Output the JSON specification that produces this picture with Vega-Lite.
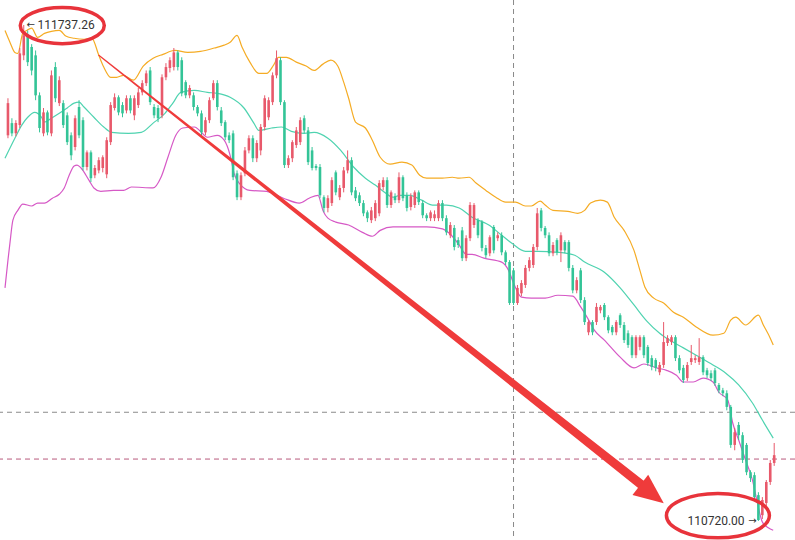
{
"$schema": "https://vega.github.io/schema/vega-lite/v6.json",
"width": 795, "height": 540,
"autosize": {"type": "none"},
"padding": 0,
"background": "#ffffff",
"config": {"view": {"stroke": null}, "axis": {"disable": true}},
"datasets": {
"candles": [
{"t":0,"o":111511,"h":111587,"l":111505,"c":111577},
{"t":4,"o":111536,"h":111546,"l":111509,"c":111515},
{"t":8,"o":111515,"h":111542,"l":111509,"c":111536},
{"t":12,"o":111532,"h":111690,"l":111526,"c":111679},
{"t":16,"o":111675,"h":111737.26,"l":111665,"c":111716},
{"t":20,"o":111718,"h":111726,"l":111653,"c":111661},
{"t":24,"o":111692,"h":111698,"l":111634,"c":111644},
{"t":28,"o":111675,"h":111685,"l":111583,"c":111593},
{"t":32,"o":111593,"h":111599,"l":111517,"c":111526},
{"t":36,"o":111515,"h":111567,"l":111509,"c":111558},
{"t":40,"o":111558,"h":111562,"l":111511,"c":111517},
{"t":44,"o":111515,"h":111644,"l":111509,"c":111634},
{"t":48,"o":111651,"h":111661,"l":111579,"c":111587},
{"t":52,"o":111577,"h":111632,"l":111571,"c":111624},
{"t":56,"o":111577,"h":111583,"l":111526,"c":111532},
{"t":60,"o":111552,"h":111558,"l":111491,"c":111497},
{"t":64,"o":111511,"h":111517,"l":111460,"c":111470},
{"t":68,"o":111487,"h":111552,"l":111480,"c":111546},
{"t":72,"o":111569,"h":111583,"l":111505,"c":111511},
{"t":76,"o":111542,"h":111548,"l":111439,"c":111446},
{"t":80,"o":111446,"h":111480,"l":111439,"c":111476},
{"t":84,"o":111476,"h":111480,"l":111415,"c":111423},
{"t":88,"o":111429,"h":111450,"l":111423,"c":111444},
{"t":92,"o":111439,"h":111466,"l":111433,"c":111460},
{"t":96,"o":111444,"h":111470,"l":111435,"c":111466},
{"t":100,"o":111431,"h":111507,"l":111423,"c":111501},
{"t":104,"o":111497,"h":111579,"l":111491,"c":111573},
{"t":108,"o":111567,"h":111597,"l":111562,"c":111589},
{"t":112,"o":111589,"h":111593,"l":111552,"c":111558},
{"t":116,"o":111573,"h":111579,"l":111548,"c":111556},
{"t":120,"o":111562,"h":111593,"l":111556,"c":111587},
{"t":124,"o":111587,"h":111593,"l":111556,"c":111562},
{"t":128,"o":111552,"h":111593,"l":111542,"c":111587},
{"t":132,"o":111573,"h":111608,"l":111567,"c":111599},
{"t":136,"o":111599,"h":111624,"l":111593,"c":111618},
{"t":140,"o":111618,"h":111644,"l":111612,"c":111638},
{"t":144,"o":111644,"h":111651,"l":111573,"c":111579},
{"t":148,"o":111569,"h":111575,"l":111546,"c":111552},
{"t":152,"o":111567,"h":111573,"l":111538,"c":111546},
{"t":156,"o":111552,"h":111636,"l":111546,"c":111630},
{"t":160,"o":111630,"h":111659,"l":111624,"c":111651},
{"t":164,"o":111649,"h":111671,"l":111640,"c":111665},
{"t":168,"o":111651,"h":111690,"l":111644,"c":111681},
{"t":172,"o":111681,"h":111685,"l":111644,"c":111651},
{"t":176,"o":111665,"h":111671,"l":111591,"c":111597},
{"t":180,"o":111620,"h":111624,"l":111587,"c":111593},
{"t":184,"o":111593,"h":111614,"l":111587,"c":111608},
{"t":188,"o":111593,"h":111599,"l":111562,"c":111569},
{"t":192,"o":111569,"h":111573,"l":111550,"c":111556},
{"t":196,"o":111556,"h":111562,"l":111511,"c":111517},
{"t":200,"o":111517,"h":111548,"l":111511,"c":111542},
{"t":204,"o":111542,"h":111589,"l":111536,"c":111583},
{"t":208,"o":111587,"h":111624,"l":111583,"c":111618},
{"t":212,"o":111618,"h":111624,"l":111562,"c":111569},
{"t":216,"o":111562,"h":111569,"l":111530,"c":111536},
{"t":220,"o":111538,"h":111542,"l":111501,"c":111507},
{"t":224,"o":111511,"h":111517,"l":111495,"c":111501},
{"t":228,"o":111515,"h":111521,"l":111419,"c":111425},
{"t":232,"o":111433,"h":111439,"l":111378,"c":111384},
{"t":236,"o":111384,"h":111435,"l":111378,"c":111429},
{"t":240,"o":111433,"h":111487,"l":111427,"c":111480},
{"t":244,"o":111480,"h":111511,"l":111474,"c":111505},
{"t":248,"o":111505,"h":111511,"l":111456,"c":111464},
{"t":252,"o":111464,"h":111501,"l":111456,"c":111495},
{"t":256,"o":111480,"h":111534,"l":111470,"c":111528},
{"t":260,"o":111528,"h":111593,"l":111521,"c":111587},
{"t":264,"o":111548,"h":111589,"l":111542,"c":111583},
{"t":268,"o":111579,"h":111640,"l":111573,"c":111634},
{"t":272,"o":111634,"h":111685,"l":111628,"c":111669},
{"t":276,"o":111665,"h":111671,"l":111573,"c":111579},
{"t":280,"o":111579,"h":111583,"l":111444,"c":111450},
{"t":284,"o":111450,"h":111470,"l":111444,"c":111464},
{"t":288,"o":111464,"h":111501,"l":111456,"c":111497},
{"t":292,"o":111491,"h":111528,"l":111485,"c":111521},
{"t":296,"o":111497,"h":111548,"l":111491,"c":111542},
{"t":300,"o":111546,"h":111552,"l":111515,"c":111521},
{"t":304,"o":111521,"h":111528,"l":111450,"c":111456},
{"t":308,"o":111480,"h":111487,"l":111439,"c":111444},
{"t":312,"o":111448,"h":111452,"l":111439,"c":111444},
{"t":316,"o":111446,"h":111452,"l":111382,"c":111388},
{"t":320,"o":111384,"h":111388,"l":111353,"c":111362},
{"t":324,"o":111362,"h":111388,"l":111353,"c":111382},
{"t":328,"o":111372,"h":111425,"l":111366,"c":111419},
{"t":332,"o":111435,"h":111439,"l":111388,"c":111394},
{"t":336,"o":111384,"h":111409,"l":111378,"c":111403},
{"t":340,"o":111403,"h":111446,"l":111394,"c":111439},
{"t":344,"o":111439,"h":111480,"l":111433,"c":111460},
{"t":348,"o":111460,"h":111466,"l":111388,"c":111394},
{"t":352,"o":111398,"h":111405,"l":111376,"c":111382},
{"t":356,"o":111388,"h":111394,"l":111366,"c":111372},
{"t":360,"o":111372,"h":111378,"l":111345,"c":111351},
{"t":364,"o":111353,"h":111357,"l":111333,"c":111341},
{"t":368,"o":111337,"h":111364,"l":111331,"c":111357},
{"t":372,"o":111341,"h":111378,"l":111335,"c":111372},
{"t":376,"o":111351,"h":111419,"l":111345,"c":111413},
{"t":380,"o":111405,"h":111425,"l":111398,"c":111419},
{"t":384,"o":111419,"h":111425,"l":111362,"c":111368},
{"t":388,"o":111368,"h":111398,"l":111362,"c":111394},
{"t":392,"o":111386,"h":111392,"l":111372,"c":111378},
{"t":396,"o":111378,"h":111435,"l":111372,"c":111425},
{"t":400,"o":111425,"h":111429,"l":111376,"c":111382},
{"t":404,"o":111388,"h":111394,"l":111355,"c":111362},
{"t":408,"o":111364,"h":111392,"l":111357,"c":111386},
{"t":412,"o":111368,"h":111398,"l":111362,"c":111394},
{"t":416,"o":111394,"h":111398,"l":111368,"c":111374},
{"t":420,"o":111372,"h":111378,"l":111341,"c":111347},
{"t":424,"o":111347,"h":111351,"l":111335,"c":111341},
{"t":428,"o":111341,"h":111357,"l":111335,"c":111353},
{"t":432,"o":111341,"h":111357,"l":111335,"c":111349},
{"t":436,"o":111341,"h":111378,"l":111335,"c":111372},
{"t":440,"o":111372,"h":111378,"l":111335,"c":111341},
{"t":444,"o":111341,"h":111347,"l":111306,"c":111312},
{"t":448,"o":111306,"h":111333,"l":111300,"c":111327},
{"t":452,"o":111321,"h":111327,"l":111275,"c":111282},
{"t":456,"o":111296,"h":111302,"l":111280,"c":111286},
{"t":460,"o":111316,"h":111323,"l":111253,"c":111259},
{"t":464,"o":111259,"h":111306,"l":111253,"c":111300},
{"t":468,"o":111300,"h":111374,"l":111294,"c":111368},
{"t":472,"o":111327,"h":111372,"l":111321,"c":111368},
{"t":476,"o":111337,"h":111341,"l":111300,"c":111306},
{"t":480,"o":111333,"h":111337,"l":111273,"c":111280},
{"t":484,"o":111280,"h":111286,"l":111259,"c":111265},
{"t":488,"o":111269,"h":111306,"l":111263,"c":111302},
{"t":492,"o":111323,"h":111327,"l":111269,"c":111275},
{"t":496,"o":111300,"h":111312,"l":111294,"c":111306},
{"t":500,"o":111306,"h":111312,"l":111265,"c":111271},
{"t":504,"o":111271,"h":111275,"l":111245,"c":111251},
{"t":508,"o":111251,"h":111255,"l":111163,"c":111167},
{"t":512,"o":111234,"h":111239,"l":111163,"c":111167},
{"t":516,"o":111167,"h":111204,"l":111163,"c":111198},
{"t":520,"o":111187,"h":111214,"l":111181,"c":111208},
{"t":524,"o":111204,"h":111245,"l":111198,"c":111239},
{"t":528,"o":111239,"h":111261,"l":111232,"c":111255},
{"t":532,"o":111245,"h":111288,"l":111239,"c":111282},
{"t":536,"o":111282,"h":111362,"l":111275,"c":111351},
{"t":540,"o":111357,"h":111362,"l":111314,"c":111321},
{"t":544,"o":111321,"h":111325,"l":111300,"c":111306},
{"t":548,"o":111306,"h":111312,"l":111263,"c":111269},
{"t":552,"o":111269,"h":111292,"l":111263,"c":111286},
{"t":556,"o":111296,"h":111300,"l":111265,"c":111271},
{"t":560,"o":111275,"h":111312,"l":111251,"c":111306},
{"t":564,"o":111292,"h":111296,"l":111269,"c":111275},
{"t":568,"o":111292,"h":111296,"l":111232,"c":111239},
{"t":572,"o":111239,"h":111245,"l":111187,"c":111193},
{"t":576,"o":111193,"h":111220,"l":111187,"c":111214},
{"t":580,"o":111234,"h":111239,"l":111167,"c":111173},
{"t":584,"o":111173,"h":111179,"l":111122,"c":111128},
{"t":588,"o":111107,"h":111132,"l":111101,"c":111128},
{"t":592,"o":111128,"h":111132,"l":111101,"c":111107},
{"t":596,"o":111128,"h":111167,"l":111122,"c":111159},
{"t":600,"o":111152,"h":111163,"l":111146,"c":111159},
{"t":604,"o":111163,"h":111167,"l":111132,"c":111138},
{"t":608,"o":111138,"h":111142,"l":111105,"c":111111},
{"t":612,"o":111118,"h":111122,"l":111101,"c":111107},
{"t":616,"o":111107,"h":111132,"l":111101,"c":111128},
{"t":620,"o":111142,"h":111146,"l":111116,"c":111122},
{"t":624,"o":111122,"h":111128,"l":111085,"c":111091},
{"t":628,"o":111105,"h":111111,"l":111075,"c":111081},
{"t":632,"o":111097,"h":111101,"l":111054,"c":111060},
{"t":636,"o":111060,"h":111101,"l":111054,"c":111097},
{"t":640,"o":111077,"h":111101,"l":111070,"c":111097},
{"t":644,"o":111097,"h":111101,"l":111054,"c":111060},
{"t":648,"o":111077,"h":111081,"l":111038,"c":111044},
{"t":652,"o":111054,"h":111060,"l":111029,"c":111036},
{"t":656,"o":111050,"h":111054,"l":111027,"c":111034},
{"t":660,"o":111025,"h":111046,"l":111019,"c":111040},
{"t":664,"o":111040,"h":111128,"l":111034,"c":111087},
{"t":668,"o":111085,"h":111101,"l":111079,"c":111095},
{"t":672,"o":111087,"h":111101,"l":111081,"c":111097},
{"t":676,"o":111097,"h":111101,"l":111048,"c":111054},
{"t":680,"o":111054,"h":111060,"l":111023,"c":111029},
{"t":684,"o":111034,"h":111040,"l":111003,"c":111009},
{"t":688,"o":111013,"h":111046,"l":111007,"c":111040},
{"t":692,"o":111046,"h":111081,"l":111040,"c":111054},
{"t":696,"o":111050,"h":111060,"l":111044,"c":111054},
{"t":700,"o":111046,"h":111095,"l":111040,"c":111056},
{"t":704,"o":111056,"h":111060,"l":111019,"c":111025},
{"t":708,"o":111029,"h":111034,"l":111013,"c":111019},
{"t":712,"o":111023,"h":111029,"l":111007,"c":111013},
{"t":716,"o":111029,"h":111034,"l":110997,"c":111003},
{"t":720,"o":110999,"h":111003,"l":110982,"c":110988},
{"t":724,"o":110988,"h":110993,"l":110976,"c":110982},
{"t":728,"o":110982,"h":110988,"l":110947,"c":110954},
{"t":732,"o":110954,"h":110958,"l":110870,"c":110876},
{"t":736,"o":110876,"h":110911,"l":110865,"c":110902},
{"t":740,"o":110917,"h":110923,"l":110886,"c":110896},
{"t":744,"o":110896,"h":110902,"l":110839,"c":110845},
{"t":748,"o":110876,"h":110880,"l":110814,"c":110820},
{"t":752,"o":110820,"h":110824,"l":110800,"c":110808},
{"t":756,"o":110814,"h":110820,"l":110763,"c":110769},
{"t":760,"o":110773,"h":110779,"l":110720,"c":110722},
{"t":764,"o":110732,"h":110769,"l":110724,"c":110763},
{"t":768,"o":110757,"h":110804,"l":110751,"c":110800},
{"t":772,"o":110800,"h":110845,"l":110794,"c":110839},
{"t":776,"o":110839,"h":110880,"l":110833,"c":110855}
],
"upper": [
{"t":-3,"p":111726},{"t":2,"p":111702},{"t":7,"p":111681},{"t":10,"p":111679},{"t":15,"p":111720},{"t":19,"p":111726},{"t":24,"p":111731},{"t":30,"p":111712},{"t":37,"p":111720},{"t":44,"p":111724},{"t":52,"p":111726},{"t":59,"p":111714},{"t":67,"p":111710},{"t":77,"p":111708},{"t":85,"p":111710},{"t":92,"p":111675},{"t":97,"p":111651},{"t":104,"p":111630},{"t":110,"p":111630},{"t":117,"p":111634},{"t":127,"p":111624},{"t":137,"p":111653},{"t":147,"p":111669},{"t":157,"p":111677},{"t":169,"p":111685},{"t":182,"p":111681},{"t":195,"p":111683},{"t":209,"p":111690},{"t":219,"p":111696},{"t":225,"p":111702},{"t":232,"p":111716},{"t":237,"p":111692},{"t":245,"p":111661},{"t":254,"p":111638},{"t":262,"p":111638},{"t":269,"p":111655},{"t":274,"p":111671},{"t":282,"p":111671},{"t":292,"p":111661},{"t":302,"p":111653},{"t":310,"p":111644},{"t":319,"p":111657},{"t":327,"p":111665},{"t":334,"p":111653},{"t":340,"p":111620},{"t":345,"p":111587},{"t":352,"p":111538},{"t":362,"p":111526},{"t":369,"p":111501},{"t":377,"p":111466},{"t":387,"p":111452},{"t":399,"p":111456},{"t":409,"p":111450},{"t":417,"p":111429},{"t":424,"p":111423},{"t":440,"p":111423},{"t":450,"p":111425},{"t":457,"p":111423},{"t":467,"p":111425},{"t":474,"p":111413},{"t":484,"p":111398},{"t":494,"p":111384},{"t":504,"p":111374},{"t":514,"p":111374},{"t":524,"p":111366},{"t":530,"p":111366},{"t":539,"p":111376},{"t":544,"p":111368},{"t":552,"p":111357},{"t":567,"p":111355},{"t":577,"p":111351},{"t":584,"p":111357},{"t":590,"p":111372},{"t":600,"p":111378},{"t":607,"p":111374},{"t":614,"p":111343},{"t":624,"p":111316},{"t":634,"p":111275},{"t":640,"p":111234},{"t":645,"p":111200},{"t":654,"p":111177},{"t":664,"p":111167},{"t":674,"p":111148},{"t":684,"p":111138},{"t":697,"p":111118},{"t":714,"p":111101},{"t":725,"p":111105},{"t":732,"p":111132},{"t":737,"p":111138},{"t":747,"p":111122},{"t":760,"p":111142},{"t":765,"p":111122},{"t":772,"p":111095},{"t":775,"p":111081}
],
"mid": [
{"t":-3,"p":111464},{"t":7,"p":111505},{"t":14,"p":111532},{"t":20,"p":111548},{"t":27,"p":111558},{"t":34,"p":111548},{"t":37,"p":111538},{"t":44,"p":111546},{"t":52,"p":111556},{"t":60,"p":111567},{"t":67,"p":111577},{"t":72,"p":111579},{"t":77,"p":111569},{"t":87,"p":111548},{"t":97,"p":111528},{"t":105,"p":111517},{"t":122,"p":111515},{"t":135,"p":111517},{"t":147,"p":111536},{"t":159,"p":111556},{"t":167,"p":111577},{"t":175,"p":111599},{"t":189,"p":111603},{"t":202,"p":111599},{"t":212,"p":111597},{"t":225,"p":111589},{"t":239,"p":111567},{"t":249,"p":111536},{"t":254,"p":111521},{"t":267,"p":111526},{"t":277,"p":111528},{"t":287,"p":111519},{"t":300,"p":111515},{"t":310,"p":111517},{"t":324,"p":111505},{"t":337,"p":111480},{"t":350,"p":111446},{"t":362,"p":111423},{"t":372,"p":111409},{"t":379,"p":111398},{"t":390,"p":111384},{"t":397,"p":111388},{"t":407,"p":111388},{"t":419,"p":111378},{"t":430,"p":111368},{"t":444,"p":111368},{"t":457,"p":111362},{"t":470,"p":111343},{"t":487,"p":111327},{"t":500,"p":111306},{"t":510,"p":111290},{"t":524,"p":111273},{"t":537,"p":111273},{"t":557,"p":111271},{"t":574,"p":111265},{"t":584,"p":111251},{"t":604,"p":111230},{"t":620,"p":111198},{"t":634,"p":111163},{"t":647,"p":111130},{"t":660,"p":111105},{"t":670,"p":111091},{"t":684,"p":111075},{"t":697,"p":111060},{"t":714,"p":111040},{"t":727,"p":111023},{"t":740,"p":110999},{"t":754,"p":110962},{"t":764,"p":110927},{"t":775,"p":110890}
],
"lower": [
{"t":-3,"p":111198},{"t":0,"p":111255},{"t":2,"p":111290},{"t":5,"p":111337},{"t":10,"p":111357},{"t":15,"p":111370},{"t":24,"p":111366},{"t":30,"p":111372},{"t":37,"p":111372},{"t":45,"p":111382},{"t":52,"p":111390},{"t":57,"p":111403},{"t":62,"p":111429},{"t":67,"p":111448},{"t":70,"p":111450},{"t":74,"p":111444},{"t":82,"p":111419},{"t":87,"p":111403},{"t":94,"p":111396},{"t":107,"p":111398},{"t":117,"p":111398},{"t":125,"p":111405},{"t":147,"p":111403},{"t":155,"p":111425},{"t":162,"p":111466},{"t":170,"p":111511},{"t":177,"p":111526},{"t":189,"p":111528},{"t":194,"p":111521},{"t":202,"p":111507},{"t":212,"p":111511},{"t":219,"p":111501},{"t":225,"p":111470},{"t":229,"p":111433},{"t":235,"p":111411},{"t":245,"p":111398},{"t":262,"p":111396},{"t":279,"p":111382},{"t":295,"p":111372},{"t":305,"p":111382},{"t":314,"p":111388},{"t":319,"p":111357},{"t":324,"p":111341},{"t":332,"p":111333},{"t":345,"p":111327},{"t":359,"p":111312},{"t":369,"p":111304},{"t":377,"p":111316},{"t":390,"p":111323},{"t":424,"p":111323},{"t":440,"p":111319},{"t":449,"p":111306},{"t":457,"p":111286},{"t":464,"p":111267},{"t":470,"p":111267},{"t":482,"p":111259},{"t":500,"p":111251},{"t":507,"p":111234},{"t":512,"p":111208},{"t":520,"p":111179},{"t":530,"p":111177},{"t":544,"p":111177},{"t":557,"p":111183},{"t":572,"p":111181},{"t":580,"p":111159},{"t":587,"p":111136},{"t":594,"p":111111},{"t":604,"p":111091},{"t":620,"p":111056},{"t":634,"p":111034},{"t":644,"p":111042},{"t":657,"p":111034},{"t":667,"p":111029},{"t":677,"p":111019},{"t":684,"p":111005},{"t":694,"p":111005},{"t":704,"p":111013},{"t":714,"p":111005},{"t":720,"p":110984},{"t":729,"p":110968},{"t":734,"p":110921},{"t":740,"p":110886},{"t":747,"p":110845},{"t":754,"p":110804},{"t":759,"p":110757},{"t":764,"p":110718},{"t":770,"p":110706},{"t":775,"p":110701}
]
},
"layer": [
{"data": {"values": [{"t": 512}]},
 "mark": {"type": "rule", "color": "#8a8a8a", "strokeWidth": 1, "strokeDash": [5, 4]},
 "encoding": {"x": {"field": "t", "type": "quantitative", "scale": {"domain": [-3, 792], "nice": false, "zero": false}}}},
{"data": {"values": [{"p": 110943}]},
 "mark": {"type": "rule", "color": "#8a8a8a", "strokeWidth": 1, "strokeDash": [5, 4]},
 "encoding": {"y": {"field": "p", "type": "quantitative", "scale": {"domain": [110681, 111788.5], "nice": false, "zero": false}}}},
{"data": {"values": [{"p": 110847}]},
 "mark": {"type": "rule", "color": "#b85a7c", "strokeWidth": 1, "strokeDash": [5, 4]},
 "encoding": {"y": {"field": "p", "type": "quantitative", "scale": {"domain": [110681, 111788.5], "nice": false, "zero": false}}}},
{"data": {"name": "upper"},
 "mark": {"type": "line", "color": "#F5AC25", "strokeWidth": 1.2, "interpolate": "monotone"},
 "encoding": {"x": {"field": "t", "type": "quantitative", "scale": {"domain": [-3, 792], "nice": false, "zero": false}},
  "y": {"field": "p", "type": "quantitative", "scale": {"domain": [110681, 111788.5], "nice": false, "zero": false}}}},
{"data": {"name": "mid"},
 "mark": {"type": "line", "color": "#4FD3B0", "strokeWidth": 1.2, "interpolate": "monotone"},
 "encoding": {"x": {"field": "t", "type": "quantitative", "scale": {"domain": [-3, 792], "nice": false, "zero": false}},
  "y": {"field": "p", "type": "quantitative", "scale": {"domain": [110681, 111788.5], "nice": false, "zero": false}}}},
{"data": {"name": "lower"},
 "mark": {"type": "line", "color": "#D659C6", "strokeWidth": 1.2, "interpolate": "monotone"},
 "encoding": {"x": {"field": "t", "type": "quantitative", "scale": {"domain": [-3, 792], "nice": false, "zero": false}},
  "y": {"field": "p", "type": "quantitative", "scale": {"domain": [110681, 111788.5], "nice": false, "zero": false}}}},
{"data": {"name": "candles"},
 "mark": {"type": "rule", "strokeWidth": 1},
 "encoding": {"x": {"field": "t", "type": "quantitative", "scale": {"domain": [-3, 792], "nice": false, "zero": false}},
  "y": {"field": "l", "type": "quantitative", "scale": {"domain": [110681, 111788.5], "nice": false, "zero": false}},
  "y2": {"field": "h"},
  "color": {"condition": {"test": "datum.c > datum.o", "value": "#E8596B"}, "value": "#33C497"}}},
{"data": {"name": "candles"},
 "mark": {"type": "bar", "width": 2.6},
 "encoding": {"x": {"field": "t", "type": "quantitative", "scale": {"domain": [-3, 792], "nice": false, "zero": false}},
  "y": {"field": "o", "type": "quantitative", "scale": {"domain": [110681, 111788.5], "nice": false, "zero": false}},
  "y2": {"field": "c"},
  "color": {"condition": {"test": "datum.c > datum.o", "value": "#E8596B"}, "value": "#33C497"}}},
{"data": {"values": [{"t": 92, "p": 111675, "w": 1.2}, {"t": 643, "p": 110792, "w": 9}]},
 "mark": {"type": "trail", "color": "#EF3B3B"},
 "encoding": {"x": {"field": "t", "type": "quantitative", "scale": {"domain": [-3, 792], "nice": false, "zero": false}},
  "y": {"field": "p", "type": "quantitative", "scale": {"domain": [110681, 111788.5], "nice": false, "zero": false}},
  "size": {"field": "w", "type": "quantitative", "scale": null}}},
{"data": {"values": [{"t": 650.6, "p": 110778}]},
 "mark": {"type": "point", "shape": "M0,-1L0.75,0.75L-0.75,0.75Z", "filled": true, "color": "#EF3B3B", "opacity": 1, "size": 1156, "angle": 128},
 "encoding": {"x": {"field": "t", "type": "quantitative", "scale": {"domain": [-3, 792], "nice": false, "zero": false}},
  "y": {"field": "p", "type": "quantitative", "scale": {"domain": [110681, 111788.5], "nice": false, "zero": false}}}},
{"data": {"values": [{"t": 55, "p": 111736, "s": 7056}, {"t": 719, "p": 110731, "s": 10609}]},
 "mark": {"type": "point", "shape": "M-1,0A1,0.43 0 1,1 1,0A1,0.43 0 1,1 -1,0Z", "filled": false, "stroke": "#E8333B", "strokeWidth": 3.5, "opacity": 1},
 "encoding": {"x": {"field": "t", "type": "quantitative", "scale": {"domain": [-3, 792], "nice": false, "zero": false}},
  "y": {"field": "p", "type": "quantitative", "scale": {"domain": [110681, 111788.5], "nice": false, "zero": false}},
  "size": {"field": "s", "type": "quantitative", "scale": null}}},
{"data": {"values": [{"t": 30, "p": 111737.26, "label": "111737.26"}]},
 "mark": {"type": "text", "align": "left", "baseline": "middle", "font": "Roboto", "fontSize": 12, "color": "#333333"},
 "encoding": {"x": {"field": "t", "type": "quantitative", "scale": {"domain": [-3, 792], "nice": false, "zero": false}},
  "y": {"field": "p", "type": "quantitative", "scale": {"domain": [110681, 111788.5], "nice": false, "zero": false}},
  "text": {"field": "label"}}},
{"data": {"values": [{"t": 746, "p": 110720, "label": "110720.00"}]},
 "mark": {"type": "text", "align": "right", "baseline": "middle", "font": "Roboto", "fontSize": 12, "color": "#333333"},
 "encoding": {"x": {"field": "t", "type": "quantitative", "scale": {"domain": [-3, 792], "nice": false, "zero": false}},
  "y": {"field": "p", "type": "quantitative", "scale": {"domain": [110681, 111788.5], "nice": false, "zero": false}},
  "text": {"field": "label"}}},
{"data": {"values": [
   {"t": 23, "p": 111737.26, "label": "←"},
   {"t": 754, "p": 110720, "label": "→"}]},
 "mark": {"type": "text", "align": "center", "baseline": "middle", "font": "DejaVu Sans", "fontSize": 10, "color": "#333333"},
 "encoding": {"x": {"field": "t", "type": "quantitative", "scale": {"domain": [-3, 792], "nice": false, "zero": false}},
  "y": {"field": "p", "type": "quantitative", "scale": {"domain": [110681, 111788.5], "nice": false, "zero": false}},
  "text": {"field": "label"}}}
]
}
